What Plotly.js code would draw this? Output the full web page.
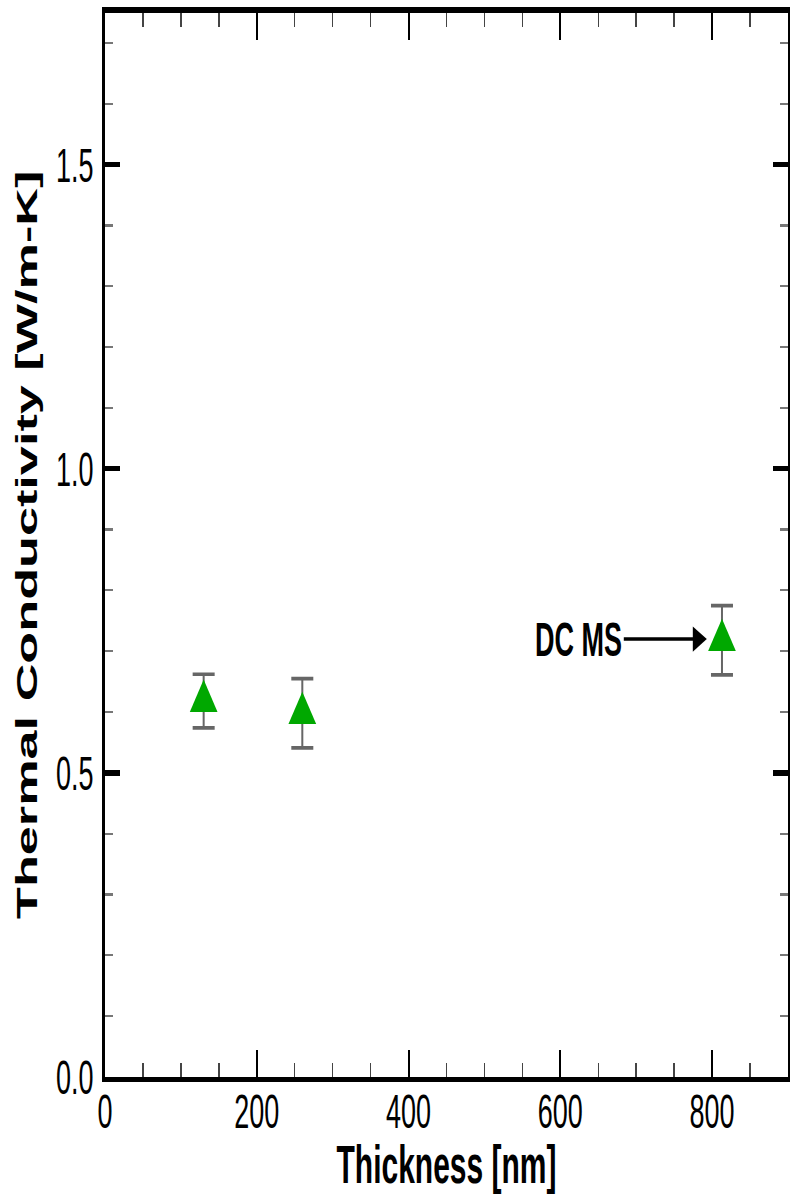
<!DOCTYPE html>
<html>
<head>
<meta charset="utf-8">
<script src="https://cdn.plot.ly/plotly-3.0.1.min.js"></script>
<style>
  html, body { margin: 0; padding: 0; background: #fff; overflow: hidden; }
  #wrap { width: 790px; height: 1194px; overflow: hidden; }
  #plot { width: 790px; height: 663px; transform: scaleY(1.80090); transform-origin: 0 0; }
</style>
</head>
<body>
<div id="wrap"><div id="plot"></div></div>
<script>
// Data
const thickness = [130, 260, 813];            // nm
const conductivity = [0.618, 0.598, 0.718];   // W/m-K
const conductivityErr = [0.044, 0.057, 0.057];
const xTickVals = [0, 200, 400, 600, 800];
const yTickVals = [0.0, 0.5, 1.0, 1.5];
const annotationText = "DC MS";
const annotationTarget = { x: 793, y: 0.72 };

const FONT = "Liberation Sans, Arial, Helvetica, sans-serif";

const trace = {
  x: thickness,
  y: conductivity,
  type: "scatter",
  mode: "markers",
  marker: { symbol: "triangle-up", size: 24, color: "#00a800", line: { width: 0 } },
  error_y: { type: "data", array: conductivityErr, visible: true, color: "#666666", thickness: 2, width: 11 },
  hoverinfo: "x+y",
  showlegend: false
};

const layout = {
  width: 790,
  height: 663,
  margin: { l: 105, r: 2, t: 7, b: 65 },
  paper_bgcolor: "#ffffff",
  plot_bgcolor: "#ffffff",
  font: { family: FONT, color: "#000000" },
  xaxis: {
    range: [0, 900],
    tickvals: xTickVals,
    ticktext: xTickVals.map(String),
    ticks: "inside",
    ticklen: 15,
    tickwidth: 2,
    tickcolor: "#000",
    ticklabelstandoff: -7,
    showline: true,
    linewidth: 3,
    linecolor: "#000",
    mirror: "ticks",
    showgrid: false,
    zeroline: false,
    tickfont: { family: FONT, size: 27, color: "#000" },
    minor: { dtick: 50, tick0: 0, ticks: "inside", ticklen: 8, tickwidth: 1.5, tickcolor: "#444", showgrid: false },
    title: { text: "Thickness [nm]", font: { family: FONT, size: 30, weight: "bold", color: "#000" }, standoff: 8 },
    automargin: false
  },
  yaxis: {
    range: [0, 1.75],
    tickvals: yTickVals,
    ticktext: yTickVals.map(v => v.toFixed(1)),
    ticks: "inside",
    ticklen: 15,
    tickwidth: 3,
    tickcolor: "#000",
    ticklabelstandoff: 3,
    showline: true,
    linewidth: 3,
    linecolor: "#000",
    mirror: "ticks",
    showgrid: false,
    zeroline: false,
    tickfont: { family: FONT, size: 27, color: "#000" },
    minor: { dtick: 0.1, tick0: 0, ticks: "inside", ticklen: 8, tickwidth: 1.2, tickcolor: "#777", showgrid: false },
    title: { text: "Thermal Conductivity [W/m-K]", font: { family: FONT, size: 29, weight: "bold", color: "#000" }, standoff: 10 },
    automargin: false
  },
  annotations: [{
    x: annotationTarget.x,
    y: annotationTarget.y,
    xref: "x",
    yref: "y",
    text: annotationText,
    showarrow: true,
    arrowhead: 2,
    arrowsize: 1.4,
    arrowwidth: 2,
    arrowcolor: "#000",
    ax: -128,
    ay: 0,
    font: { family: FONT, size: 27, weight: "bold", color: "#000" }
  }]
};

Plotly.newPlot("plot", [trace], layout, { staticPlot: true, displayModeBar: false });
</script>
</body>
</html>
